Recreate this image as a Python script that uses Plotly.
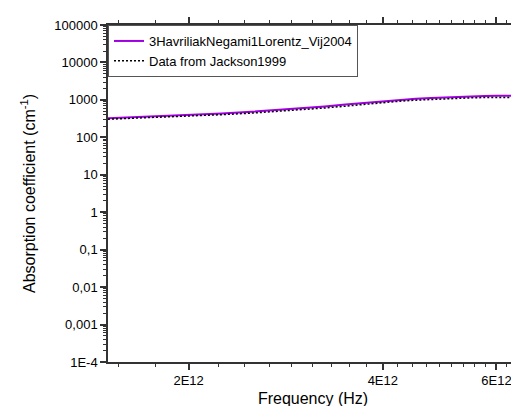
import numpy as np
import plotly.graph_objects as go

# Data (frequencies in Hz, absorption in cm^-1)
freq = [1.5e12, 1.75e12, 2.0e12, 2.25e12, 2.5e12, 2.75e12, 3.0e12, 3.25e12, 3.5e12,
        3.75e12, 4.0e12, 4.25e12, 4.5e12, 4.75e12, 5.0e12, 5.25e12, 5.5e12, 5.75e12,
        6.0e12, 6.25e12, 6.5e12]
model_vals = [325, 358, 395, 435, 482, 535, 598, 668, 748, 835, 922, 1000, 1070,
              1130, 1180, 1222, 1252, 1272, 1282, 1285, 1282]
jackson_vals = [305, 335, 368, 403, 443, 490, 545, 608, 680, 765, 852, 925, 985,
                1035, 1078, 1112, 1140, 1155, 1163, 1168, 1170]

x_tickvals = [2e12, 4e12, 6e12]
x_ticktext = ["2E12", "4E12", "6E12"]
y_tickvals = [1e5, 1e4, 1e3, 1e2, 1e1, 1, 0.1, 0.01, 0.001, 1e-4]
y_ticktext = ["100000", "10000", "1000", "100", "10", "1", "0,1", "0,01", "0,001", "1E-4"]

x_minor = [n * 2e12 / 9 for n in range(7, 30) if n % 9 != 0]
y_minor = [m * 10.0 ** d for d in range(-4, 5) for m in range(2, 10)]

fig = go.Figure()
fig.add_trace(go.Scatter(x=freq, y=model_vals, mode="lines",
                         name="3HavriliakNegami1Lorentz_Vij2004",
                         line=dict(color="#A000E0", width=2)))
fig.add_trace(go.Scatter(x=freq, y=jackson_vals, mode="lines",
                         name="Data from Jackson1999",
                         line=dict(color="black", width=1.5, dash="2px,2px")))

axis_color = "#333333"
fig.update_layout(
    width=519, height=406,
    margin=dict(l=100, r=1, t=17, b=52),
    paper_bgcolor="white", plot_bgcolor="white",
    font=dict(family="Liberation Sans, Arial, sans-serif", size=13, color="black"),
    showlegend=True,
    legend=dict(x=0, y=1, xanchor="left", yanchor="top",
                bgcolor="white", bordercolor="#555555", borderwidth=1,
                font=dict(size=13), tracegroupgap=0,
                itemwidth=30),
    xaxis=dict(
        type="log",
        range=[np.log10(1.5e12), np.log10(6.48e12)],
        tickmode="array", tickvals=x_tickvals, ticktext=x_ticktext,
        ticks="outside", ticklen=6, tickwidth=1.5, tickcolor=axis_color,
        showline=True, linecolor=axis_color, linewidth=1.5,
        mirror="allticks", showgrid=False, zeroline=False,
        minor=dict(tickmode="array", tickvals=x_minor, ticks="outside",
                   ticklen=3, tickwidth=1, tickcolor=axis_color, showgrid=False),
        title=dict(text="Frequency (Hz)", font=dict(size=16), standoff=5),
        tickfont=dict(size=13),
    ),
    yaxis=dict(
        type="log",
        range=[-4, 5],
        tickmode="array", tickvals=y_tickvals, ticktext=y_ticktext,
        ticks="outside", ticklen=6, tickwidth=1.5, tickcolor=axis_color,
        showline=True, linecolor=axis_color, linewidth=1.5,
        mirror="allticks", showgrid=False, zeroline=False,
        minor=dict(tickmode="array", tickvals=y_minor, ticks="outside",
                   ticklen=3, tickwidth=1, tickcolor=axis_color, showgrid=False),
        title=dict(text="Absorption coefficient (cm<sup>-1</sup>)", font=dict(size=16), standoff=15),
        tickfont=dict(size=13),
    ),
)

fig.write_html("out.html")
